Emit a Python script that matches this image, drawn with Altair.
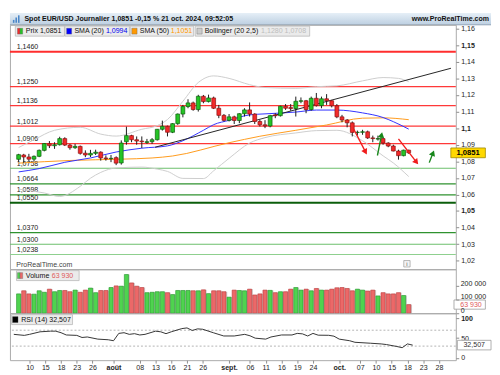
import math
import altair as alt
import pandas as pd

FONT = "Liberation Sans"

# ---------------- data ----------------
title_text = "Spot EUR/USD Journalier 1,0851 -0,15 % 21 oct. 2024, 09:52:05"
site_text = "www.ProRealTime.com"
footer_text = "ProRealTime.com"
legend_names = ["Prix", "SMA (20)", "SMA (50)", "Bollinger (20 2,5)", "Volume", "RSI (14)"]

# daily candles, 5 Jul 2024 (index 0) .. 21 Oct 2024 (index 76), weekdays only
opens = [1.0812, 1.0838, 1.0826, 1.0813, 1.0830, 1.0866, 1.0906, 1.0894, 1.0900, 1.0937,
         1.0898, 1.0882, 1.0890, 1.0849, 1.0838, 1.0848, 1.0855, 1.0820, 1.0816, 1.0822,
         1.0790, 1.0918, 1.0955, 1.0930, 1.0922, 1.0914, 1.0918, 1.0930, 1.0993, 1.1011,
         1.0975, 1.1027, 1.1085, 1.1130, 1.1152, 1.1112, 1.1192, 1.1160, 1.1182, 1.1120,
         1.1077, 1.1047, 1.1068, 1.1046, 1.1087, 1.1110, 1.1085, 1.1040, 1.1020, 1.1013,
         1.1080, 1.1075, 1.1132, 1.1124, 1.1118, 1.1162, 1.1165, 1.1112, 1.1180, 1.1136,
         1.1177, 1.1165, 1.1135, 1.1068, 1.1049, 1.1032, 1.0974, 1.0975, 1.0978, 1.0941,
         1.0934, 1.0937, 1.0910, 1.0892, 1.0862, 1.0834, 1.0867]
highs = [1.0845, 1.0845, 1.0845, 1.0835, 1.0871, 1.0910, 1.0922, 1.0915, 1.0948, 1.0945,
         1.0905, 1.0905, 1.0895, 1.0866, 1.0869, 1.0870, 1.0860, 1.0836, 1.0838, 1.0830,
         1.0926, 1.1009, 1.0960, 1.0950, 1.0950, 1.0935, 1.0940, 1.0995, 1.1045, 1.1015,
         1.1030, 1.1088, 1.1140, 1.1174, 1.1160, 1.1201, 1.1200, 1.1202, 1.1190, 1.1140,
         1.1085, 1.1085, 1.1075, 1.1090, 1.1120, 1.1155, 1.1090, 1.1050, 1.1048, 1.1080,
         1.1090, 1.1135, 1.1145, 1.1145, 1.1190, 1.1185, 1.1170, 1.1190, 1.1212, 1.1190,
         1.1205, 1.1170, 1.1145, 1.1080, 1.1055, 1.1040, 1.0985, 1.0990, 1.0985, 1.0955,
         1.0955, 1.0940, 1.0915, 1.0900, 1.0870, 1.0870, 1.0870]
lows = [1.0797, 1.0791, 1.0800, 1.0800, 1.0825, 1.0860, 1.0880, 1.0875, 1.0895, 1.0892,
        1.0870, 1.0875, 1.0840, 1.0825, 1.0826, 1.0838, 1.0804, 1.0804, 1.0795, 1.0777,
        1.0780, 1.0900, 1.0915, 1.0900, 1.0880, 1.0905, 1.0905, 1.0925, 1.0985, 1.0950,
        1.0970, 1.1020, 1.1065, 1.1120, 1.1105, 1.1100, 1.1150, 1.1155, 1.1115, 1.1060,
        1.1040, 1.1040, 1.1025, 1.1030, 1.1070, 1.1070, 1.1025, 1.1010, 1.1000, 1.1005,
        1.1060, 1.1070, 1.1110, 1.1105, 1.1070, 1.1150, 1.1090, 1.1105, 1.1130, 1.1120,
        1.1140, 1.1125, 1.1060, 1.1035, 1.1005, 1.0950, 1.0955, 1.0960, 1.0935, 1.0915,
        1.0925, 1.0900, 1.0885, 1.0860, 1.0810, 1.0830, 1.0845]
closes = [1.0840, 1.0826, 1.0813, 1.0830, 1.0866, 1.0907, 1.0894, 1.0900, 1.0937, 1.0898,
          1.0882, 1.0890, 1.0848, 1.0838, 1.0848, 1.0855, 1.0820, 1.0816, 1.0818, 1.0789,
          1.0910, 1.0955, 1.0930, 1.0922, 1.0918, 1.0918, 1.0930, 1.0993, 1.1011, 1.0975,
          1.1027, 1.1085, 1.1130, 1.1152, 1.1112, 1.1192, 1.1160, 1.1182, 1.1120, 1.1077,
          1.1047, 1.1068, 1.1046, 1.1087, 1.1110, 1.1085, 1.1040, 1.1020, 1.1013, 1.1075,
          1.1075, 1.1132, 1.1120, 1.1118, 1.1162, 1.1165, 1.1112, 1.1180, 1.1136, 1.1177,
          1.1165, 1.1135, 1.1068, 1.1049, 1.1032, 1.0974, 1.0975, 1.0978, 1.0941, 1.0937,
          1.0937, 1.0910, 1.0892, 1.0862, 1.0834, 1.0867, 1.0851]
volumes = [143000, 166000, 143000, 141000, 166000, 155000, 178000, 159000, 168000, 168000,
           159000, 171000, 155000, 171000, 186000, 152000, 168000, 168000, 190000, 202000,
           200000, 286000, 224000, 200000, 190000, 152000, 155000, 159000, 159000, 152000,
           138000, 168000, 168000, 168000, 166000, 166000, 173000, 145000, 166000, 166000,
           159000, 119000, 171000, 168000, 166000, 178000, 135000, 143000, 171000, 169000,
           152000, 159000, 159000, 178000, 190000, 171000, 178000, 166000, 183000, 171000,
           171000, 178000, 188000, 190000, 183000, 166000, 178000, 171000, 164000, 171000,
           128000, 152000, 143000, 143000, 152000, 131000, 63930]

sma20_idx = [0, 4, 9, 14, 19, 24, 29, 32, 36, 38, 41, 45, 48, 54, 58, 62, 67, 71, 73, 76]
sma20_val = [1.0736, 1.0756, 1.0794, 1.0820, 1.0856, 1.0879, 1.0893, 1.0924, 1.0987, 1.1021,
             1.1047, 1.1080, 1.1086, 1.1097, 1.1109, 1.1109, 1.1092, 1.1064, 1.1039, 1.0994]
sma50_idx = [0, 10, 20, 26, 30, 41, 47, 54, 60, 67, 71, 76]
sma50_val = [1.0789, 1.0805, 1.0813, 1.0820, 1.0832, 1.0912, 1.0951, 1.0987, 1.1019, 1.1060,
             1.1062, 1.1051]
bb_up_idx = [0, 3, 7, 12, 16, 19, 24, 27, 29, 32, 35, 38, 41, 45, 48, 54, 58, 62, 67, 71, 74, 76]
bb_up_val = [1.0883, 1.0930, 1.0987, 1.1005, 1.0964, 1.0952, 1.0993, 1.1015, 1.1052, 1.1162,
             1.1275, 1.1315, 1.1300, 1.1262, 1.1245, 1.1240, 1.1250, 1.1255, 1.1285, 1.1305,
             1.1300, 1.1280]
bb_lo_idx = [0, 5, 8, 12, 14, 16, 19, 24, 27, 29, 32, 36, 38, 41, 45, 48, 54, 58, 62, 67, 71, 73, 76]
bb_lo_val = [1.0632, 1.0609, 1.0588, 1.0649, 1.0698, 1.0733, 1.0760, 1.0765, 1.0753, 1.0739,
             1.0697, 1.0696, 1.0743, 1.0818, 1.0910, 1.0943, 1.0971, 1.0985, 1.0987, 1.0924,
             1.0833, 1.0790, 1.0708]

rsi_idx = [0, 2, 3, 5, 7, 8, 9, 10, 12, 13, 14, 16, 18, 19, 20, 21, 22, 23, 24, 25,
           27, 28, 29, 30, 32, 33, 34, 35, 36, 38, 40, 42, 44, 45, 46, 48, 49, 51, 53, 54,
           55, 56, 57, 58, 60, 61, 62, 64, 65, 68, 70, 71, 73, 74, 75, 76]
rsi_val = [59.6, 57, 59.6, 66, 67.6, 67.6, 63.7, 58, 57, 51.7, 53, 47.6, 46, 43.5, 62, 63.7,
           59.6, 61.3, 58, 59.6, 67.6, 66, 61.3, 66, 74, 75.8, 69.3, 73.4, 72.4, 63.7,
           55.5, 55.5, 59.6, 56, 50, 47.6, 53, 58, 58, 62, 60.8, 55.5, 62, 57.5, 57.2, 55,
           47.6, 43.5, 39.6, 37.2, 35.5, 33.9, 29, 26, 35.5, 32.507]

resist_levels = [1.1460, 1.1250, 1.1136, 1.1012, 1.0906]
support_levels = [1.0758, 1.0664, 1.0598, 1.0550, 1.0370, 1.0300, 1.0238]

trend_idx = [26.6, 84.22]
trend_val = [1.0885, 1.1361]

arrow_from_idx = [65.3, 69.9, 74.0, 80.0]
arrow_from_val = [1.0993, 1.0835, 1.0935, 1.0792]
arrow_to_idx = [67.8, 70.8, 77.8, 80.9]
arrow_to_val = [1.0843, 1.0974, 1.0783, 1.0864]
arrow_dir = ["down", "up", "down", "up"]

price_ticks = [1.02, 1.03, 1.04, 1.05, 1.06, 1.07, 1.08, 1.09, 1.10, 1.11, 1.12, 1.13, 1.14, 1.15, 1.16]
vol_ticks = [0, 100000, 200000]
rsi_ticks = [0, 50, 100]
rsi_bands = [70, 30]
date_tick_idx = [3, 6, 9, 12, 15, 19, 24, 27, 30, 33, 36, 41, 45, 48, 51, 54, 57, 62, 66, 69, 72, 75, 78, 81]
date_tick_lbl = ["10", "15", "18", "23", "26", "août", "08", "13", "16", "21", "26", "sept.",
                 "06", "11", "16", "19", "24", "oct.", "07", "10", "15", "18", "23", "28"]

# ---------------- layout ----------------
W = 456
RIGHT = 492
H_HEAD, H_MAIN, H_VOL, H_RSI = 12, 250, 45, 48
XDOM = [-0.734, 84.22]
PDOM = [1.01491, 1.16231]
VDOM = [0.0, 325000.0]
RDOM = [-5.4, 112.7]
FS = 7.2   # legend / title text size
AFS = 7.2  # axis label size

XS = alt.Scale(domain=XDOM, nice=False, zero=False)
PS = alt.Scale(domain=PDOM, nice=False, zero=False)
VS = alt.Scale(domain=VDOM, nice=False, zero=False)
RS = alt.Scale(domain=RDOM, nice=False, zero=False)


def px2i(px):
    return XDOM[0] + px / W * (XDOM[1] - XDOM[0])


def _inv(dom, h):
    return lambda py: dom[1] - py / h * (dom[1] - dom[0])


py2p = _inv(PDOM, H_MAIN)
py2v = _inv(VDOM, H_VOL)
py2r = _inv(RDOM, H_RSI)


def f4(v):
    return f"{v:.4f}".replace(".", ",")


AX = dict(orient="right", tickSize=3, tickColor="#8c8c8c", labelColor="#1e1e1e",
          labelFontSize=AFS, domain=False, grid=False, title=None, labelFont=FONT)
PAX = alt.Axis(values=price_ticks,
               labelExpr="replace(format(datum.value, '.2~f'), '.', ',')",
               labelFontWeight={"condition": {"test": "abs(datum.value*20 - round(datum.value*20)) < 0.01",
                                              "value": "bold"}, "value": "normal"},
               labelFlush=False, labelPadding=2, **AX)
VAX = alt.Axis(values=vol_ticks, labelExpr="replace(format(datum.value, ','), ',', ' ')",
               labelFlush=True, labelPadding=1.5, zindex=1,
               labelOffset={"condition": {"test": "datum.value == 0", "value": 1.2}, "value": -3},
               **AX)
RAX = alt.Axis(values=rsi_ticks,
               labelFontWeight={"condition": {"test": "datum.value == 100", "value": "bold"},
                                "value": "normal"}, labelFlush=False, labelPadding=2, **AX)
lbl_list = ",".join("'%s'" % s for s in date_tick_lbl)
idx_list = ",".join(str(i) for i in date_tick_idx)
month_idx = ",".join(str(i) for i, s in zip(date_tick_idx, date_tick_lbl) if not s.isdigit())
DAX = alt.Axis(orient="bottom", values=date_tick_idx,
               labelExpr=f"[{lbl_list}][indexof([{idx_list}], datum.value)]",
               labelFontWeight={"condition": {"test": f"indexof([{month_idx}], datum.value) >= 0",
                                              "value": "bold"}, "value": "normal"},
               tickSize=3, tickColor="#8c8c8c", labelColor="#1e1e1e", labelFontSize=AFS,
               labelPadding=1, domain=False, grid=False, title=None, labelFont=FONT,
               labelFlush=False)


def X(f):
    return alt.X(f, type="quantitative", scale=XS, axis=None)


def XR(f):
    return alt.X(f, type="quantitative", scale=XS, axis=DAX)


def YP(f):
    return alt.Y(f, type="quantitative", scale=PS, axis=PAX)


def YV(f):
    return alt.Y(f, type="quantitative", scale=VS, axis=VAX)


def YR(f):
    return alt.Y(f, type="quantitative", scale=RS, axis=RAX)


UP_FILL, DN_FILL = "#25c425", "#f22a2a"
UP_LINE, DN_LINE = "#0b5e0b", "#8a1010"
VUP_FILL, VDN_FILL = "#4fd34f", "#ec6868"
VUP_LINE, VDN_LINE = "#22952a", "#b83a3a"

# ---------------- header ----------------
hdf = pd.DataFrame({"t": [title_text], "s": [site_text]})
grad = alt.LinearGradient(gradient="linear",
                          stops=[alt.GradientStop(color="#e6eff7", offset=0),
                                 alt.GradientStop(color="#bccfe1", offset=1)],
                          x1=0, x2=0, y1=0, y2=1)
head_bg = alt.Chart(hdf).mark_rect(fill=grad).encode(
    x=alt.value(0), x2=alt.value(RIGHT), y=alt.value(0), y2=alt.value(H_HEAD))
head_rule = alt.Chart(hdf).mark_rule(color="#8fa3b6", strokeWidth=1).encode(
    x=alt.value(0), x2=alt.value(RIGHT), y=alt.value(H_HEAD))
icon_df = pd.DataFrame({"x0": [3.0, 5.6, 8.2], "x1": [4.6, 7.2, 9.8],
                        "y0": [7.0, 4.5, 2.3], "y1": [10.0, 10.0, 10.0]})
head_icon = alt.Chart(icon_df).mark_rect(fill="#4a86c8").encode(
    x=alt.X("x0:Q", scale=None), x2="x1:Q", y=alt.Y("y0:Q", scale=None), y2="y1:Q")
head_title = alt.Chart(hdf).mark_text(align="left", baseline="middle", fontWeight="bold",
                                      fontSize=FS, color="#111").encode(
    x=alt.value(14.8), y=alt.value(6.2), text="t:N")
head_site = alt.Chart(hdf).mark_text(align="right", baseline="middle", fontWeight="bold",
                                     fontSize=FS, color="#111").encode(
    x=alt.value(490), y=alt.value(6.2), text="s:N")
head = alt.layer(head_bg, head_rule, head_icon, head_title, head_site).properties(
    width=W, height=H_HEAD, view=alt.ViewBackground(stroke="transparent"))

# ---------------- main price panel ----------------
sup_style = {1.0758: ("#6cbf6c", 1.2), 1.0664: ("#2f922f", 1.2), 1.0598: ("#2f922f", 1.2),
             1.0550: ("#0b5e0b", 2.2), 1.0370: ("#2f922f", 1.2), 1.0300: ("#6cbf6c", 1.2),
             1.0238: ("#8fd08f", 1.2)}
lv_rows = []
for p in resist_levels:
    col, w = ("#ff2e2e", 2.0) if p == max(resist_levels) else ("#ff3838", 1.3)
    lv_rows.append({"p": p, "col": col, "w": w, "label": f4(p), "lx": px2i(2)})
for p in support_levels:
    col, w = sup_style[p]
    lv_rows.append({"p": p, "col": col, "w": w, "label": f4(p), "lx": px2i(2)})
lvdf = pd.DataFrame(lv_rows)
lv_rule = alt.Chart(lvdf).mark_rule().encode(
    y=YP("p"), color=alt.Color("col:N", scale=None), strokeWidth=alt.StrokeWidth("w:Q", scale=None))
lv_text = alt.Chart(lvdf).mark_text(align="left", baseline="bottom", dy=-0.6, fontSize=AFS,
                                    color="#222").encode(x=X("lx"), y=YP("p"), text="label:N")


def series(ix, vals, color, width=1.0):
    df = pd.DataFrame({"i": ix, "p": vals})
    return alt.Chart(df).mark_line(color=color, strokeWidth=width, interpolate="monotone").encode(
        x=X("i"), y=YP("p"))


bb_up = series(bb_up_idx, bb_up_val, "#cdcdcd")
bb_lo = series(bb_lo_idx, bb_lo_val, "#cdcdcd")
sma50 = series(sma50_idx, sma50_val, "#ff9a1a")
sma20 = series(sma20_idx, sma20_val, "#3030ff")

tdf = pd.DataFrame({"i0": [trend_idx[0]], "p0": [trend_val[0]], "i1": [trend_idx[1]], "p1": [trend_val[1]]})
trend = alt.Chart(tdf).mark_rule(color="#222", strokeWidth=1).encode(
    x=X("i0"), y=YP("p0"), x2="i1:Q", y2="p1:Q")

n = len(opens)
cdf = pd.DataFrame({"i": list(range(n)), "o": opens, "h": highs, "l": lows, "c": closes, "v": volumes})
up = [c >= o for o, c in zip(opens, closes)]
cdf["fill"] = [UP_FILL if u else DN_FILL for u in up]
cdf["line"] = [UP_LINE if u else DN_LINE for u in up]
cdf["vfill"] = [VUP_FILL if u else VDN_FILL for u in up]
cdf["vline"] = [VUP_LINE if u else VDN_LINE for u in up]
wicks = alt.Chart(cdf).mark_rule(color="#1a1a1a", strokeWidth=1).encode(
    x=X("i"), y=YP("l"), y2="h:Q")
bodies = alt.Chart(cdf).mark_bar(size=3.9, strokeWidth=0.7).encode(
    x=X("i"), y=YP("o"), y2="c:Q",
    fill=alt.Fill("fill:N", scale=None), stroke=alt.Stroke("line:N", scale=None))

# arrows (line + triangular head)
PXI = W / (XDOM[1] - XDOM[0])
PXP = H_MAIN / (PDOM[1] - PDOM[0])
arows = []
for a0, b0, a1, b1, d in zip(arrow_from_idx, arrow_from_val, arrow_to_idx, arrow_to_val, arrow_dir):
    dx = (a1 - a0) * PXI
    dy = -(b1 - b0) * PXP
    L = math.hypot(dx, dy)
    ux, uy = dx / L, dy / L
    back = 2.6
    arows.append({"i0": a0, "p0": b0,
                  "ih": a1 - ux * back / PXI, "ph": b1 + uy * back / PXP,
                  "ang": math.degrees(math.atan2(dx, -dy)) % 360,
                  "col": "#f01c1c" if d == "down" else "#17871a"})
adf = pd.DataFrame(arows)
arrow_lines = alt.Chart(adf).mark_rule(strokeWidth=1.4).encode(
    x=X("i0"), y=YP("p0"), x2="ih:Q", y2="ph:Q", color=alt.Color("col:N", scale=None))
arrow_heads = alt.Chart(adf).mark_point(shape="triangle-up", filled=True, size=44, opacity=1).encode(
    x=X("ih"), y=YP("ph"), angle=alt.Angle("ang:Q", scale=None), color=alt.Color("col:N", scale=None))

# legend boxes of the price panel
LY0, LY1 = 1.4, 11.6
box_px = [(0.5, 51.9), (52.4, 119.8), (120.7, 187.0), (188.6, 308.3)]
boxdf = pd.DataFrame({"x0": [px2i(a) for a, b in box_px], "x1": [px2i(b) for a, b in box_px],
                      "y0": py2p(LY0), "y1": py2p(LY1)})
leg_box = alt.Chart(boxdf).mark_rect(fill="#ebebeb", stroke="#b9b9b9", strokeWidth=0.8).encode(
    x=X("x0"), x2="x1:Q", y=YP("y0"), y2="y1:Q")
icon_px = [(2.7, 5.4, DN_FILL), (5.4, 8.2, UP_FILL), (54.1, 59.4, "#0000ff"),
           (122.3, 127.8, "#ff9900"), (190.4, 195.8, "#cccccc")]
icdf = pd.DataFrame({"x0": [px2i(a) for a, b, c in icon_px], "x1": [px2i(b) for a, b, c in icon_px],
                     "col": [c for a, b, c in icon_px], "y0": py2p(3.5), "y1": py2p(9.5)})
leg_icon = alt.Chart(icdf).mark_rect(strokeWidth=0.4, stroke="#666").encode(
    x=X("x0"), x2="x1:Q", y=YP("y0"), y2="y1:Q", fill=alt.Fill("col:N", scale=None))
txt_items = [(11.5, f"{legend_names[0]} {f4(closes[-1])}", "#111"),
             (62.3, legend_names[1], "#111"), (95.2, f4(sma20_val[-1]), "#0000ee"),
             (130.6, legend_names[2], "#111"), (163.0, f4(sma50_val[-1]), "#ff9900"),
             (198.5, legend_names[3], "#111"),
             (257.5, f"{f4(bb_up_val[-1])} {f4(bb_lo_val[-1])}", "#bdbdbd")]
ltdf = pd.DataFrame({"x": [px2i(a) for a, b, c in txt_items], "t": [b for a, b, c in txt_items],
                     "col": [c for a, b, c in txt_items], "y": py2p((LY0 + LY1) / 2)})
leg_text = alt.Chart(ltdf).mark_text(align="left", baseline="middle", fontSize=FS).encode(
    x=X("x"), y=YP("y"), text="t:N", color=alt.Color("col:N", scale=None))

# last price box on the axis
half_p = 5.0 / PXP
pbdf = pd.DataFrame({"x0": [px2i(455.9)], "x1": [px2i(RIGHT)], "xc": [px2i(474.0)],
                     "y0": [closes[-1] - half_p], "y1": [closes[-1] + half_p], "p": [closes[-1]],
                     "t": [f4(closes[-1])]})
price_box = alt.Chart(pbdf).mark_rect(fill="#ffd800", stroke="#9c8700", strokeWidth=0.8).encode(
    x=X("x0"), x2="x1:Q", y=YP("y0"), y2="y1:Q")
price_txt = alt.Chart(pbdf).mark_text(align="center", baseline="middle", fontWeight="bold",
                                      fontSize=7.8, color="#000").encode(x=X("xc"), y=YP("p"), text="t:N")

fdf = pd.DataFrame({"x": [px2i(1.5)], "y": [py2p(245.2)], "t": [footer_text],
                    "bx0": [px2i(406.7)], "bx1": [px2i(413.3)], "by0": [py2p(241.1)], "by1": [py2p(247.7)],
                    "bxc": [px2i(410.0)], "byc": [py2p(244.4)], "i": ["i"]})
foot_txt = alt.Chart(fdf).mark_text(align="left", baseline="middle", fontSize=AFS, color="#444").encode(
    x=X("x"), y=YP("y"), text="t:N")
ibox = alt.Chart(fdf).mark_rect(fill="#f4f4f4", stroke="#9a9a9a", strokeWidth=0.7).encode(
    x=X("bx0"), x2="bx1:Q", y=YP("by0"), y2="by1:Q")
itxt = alt.Chart(fdf).mark_text(align="center", baseline="middle", fontSize=6, color="#555").encode(
    x=X("bxc"), y=YP("byc"), text="i:N")

main = alt.layer(lv_rule, lv_text, bb_up, bb_lo, sma50, sma20, trend, wicks, bodies,
                 arrow_lines, arrow_heads, leg_box, leg_icon, leg_text, price_box, price_txt,
                 foot_txt, ibox, itxt).properties(width=W, height=H_MAIN)

# ---------------- volume panel ----------------
vshadow = alt.Chart(cdf).mark_bar(size=4.2, xOffset=1.3, color="#d2d2d2").encode(x=X("i"), y=YV("v"))
vbars = alt.Chart(cdf).mark_bar(size=4.2, strokeWidth=0.6).encode(
    x=X("i"), y=YV("v"), fill=alt.Fill("vfill:N", scale=None), stroke=alt.Stroke("vline:N", scale=None))
vol_str = f"{volumes[-1]:,}".replace(",", " ")
vb = pd.DataFrame({"x0": [px2i(1.7)], "x1": [px2i(67.2)], "y0": [py2v(LY0)], "y1": [py2v(LY1)]})
v_box = alt.Chart(vb).mark_rect(fill="#ebebeb", stroke="#b9b9b9", strokeWidth=0.8).encode(
    x=X("x0"), x2="x1:Q", y=YV("y0"), y2="y1:Q")
vic = pd.DataFrame({"x0": [px2i(2.7), px2i(5.4)], "x1": [px2i(5.4), px2i(8.2)],
                    "col": [VUP_FILL, VDN_FILL], "y0": py2v(3.5), "y1": py2v(9.5)})
v_icon = alt.Chart(vic).mark_rect(strokeWidth=0.4, stroke="#666").encode(
    x=X("x0"), x2="x1:Q", y=YV("y0"), y2="y1:Q", fill=alt.Fill("col:N", scale=None))
vt = pd.DataFrame({"x": [px2i(11.5), px2i(38.6)], "t": [legend_names[4], vol_str],
                   "col": ["#111", "#e05a5a"], "y": py2v((LY0 + LY1) / 2)})
v_text = alt.Chart(vt).mark_text(align="left", baseline="middle", fontSize=FS).encode(
    x=X("x"), y=YV("y"), text="t:N", color=alt.Color("col:N", scale=None))
half_v = 4.7 / H_VOL * (VDOM[1] - VDOM[0])
vvb = pd.DataFrame({"x0": [px2i(459.2)], "x1": [px2i(RIGHT)], "xc": [px2i(477.0)],
                    "y0": [volumes[-1] - half_v], "y1": [volumes[-1] + half_v],
                    "v": [volumes[-1]], "t": [vol_str]})
v_vbox = alt.Chart(vvb).mark_rect(fill="#ffffff", stroke="#9a9a9a", strokeWidth=0.8).encode(
    x=X("x0"), x2="x1:Q", y=YV("y0"), y2="y1:Q")
v_vtxt = alt.Chart(vvb).mark_text(align="center", baseline="middle", fontSize=AFS, color="#e05a5a").encode(
    x=X("xc"), y=YV("v"), text="t:N")
vol = alt.layer(vshadow, vbars, v_box, v_icon, v_text, v_vbox, v_vtxt).properties(width=W, height=H_VOL)

# ---------------- RSI panel ----------------
rbdf = pd.DataFrame({"r": rsi_bands})
r_bands = alt.Chart(rbdf).mark_rule(color="#a0a0a0", strokeDash=[2, 2], strokeWidth=0.8).encode(y=YR("r"))
rdf = pd.DataFrame({"i": rsi_idx, "r": rsi_val})
r_line = alt.Chart(rdf).mark_line(color="#333", strokeWidth=1).encode(x=XR("i"), y=YR("r"))
rsi_str = f"{rsi_val[-1]:.3f}".replace(".", ",")
rb = pd.DataFrame({"x0": [px2i(1.7)], "x1": [px2i(64.0)], "y0": [py2r(LY0)], "y1": [py2r(LY1)],
                   "ix0": [px2i(2.7)], "ix1": [px2i(8.2)], "iy0": [py2r(3.5)], "iy1": [py2r(9.5)],
                   "tx": [px2i(11.5)], "ty": [py2r((LY0 + LY1) / 2)],
                   "t": [f"{legend_names[5]} {rsi_str}"]})
r_box = alt.Chart(rb).mark_rect(fill="#ebebeb", stroke="#b9b9b9", strokeWidth=0.8).encode(
    x=XR("x0"), x2="x1:Q", y=YR("y0"), y2="y1:Q")
r_icon = alt.Chart(rb).mark_rect(fill="#000", stroke="#444", strokeWidth=0.4).encode(
    x=XR("ix0"), x2="ix1:Q", y=YR("iy0"), y2="iy1:Q")
r_text = alt.Chart(rb).mark_text(align="left", baseline="middle", fontSize=FS, color="#111").encode(
    x=XR("tx"), y=YR("ty"), text="t:N")
half_r = 4.9 / H_RSI * (RDOM[1] - RDOM[0])
rvb = pd.DataFrame({"x0": [px2i(457.6)], "x1": [px2i(RIGHT)], "xc": [px2i(474.8)],
                    "y0": [rsi_val[-1] - half_r], "y1": [rsi_val[-1] + half_r],
                    "r": [rsi_val[-1]], "t": [rsi_str]})
r_vbox = alt.Chart(rvb).mark_rect(fill="#ffffff", stroke="#9a9a9a", strokeWidth=0.8).encode(
    x=XR("x0"), x2="x1:Q", y=YR("y0"), y2="y1:Q")
r_vtxt = alt.Chart(rvb).mark_text(align="center", baseline="middle", fontSize=AFS, color="#333").encode(
    x=XR("xc"), y=YR("r"), text="t:N")
rsi = alt.layer(r_bands, r_line, r_box, r_icon, r_text, r_vbox, r_vtxt).properties(width=W, height=H_RSI)

chart = alt.vconcat(head, main, vol, rsi, spacing=0, bounds="flush",
                    padding={"left": 0, "top": 0, "right": 0, "bottom": 0}).configure(
    font=FONT).configure_view(stroke="#a9a9a9", strokeWidth=1)

chart.save("out.html", embed_options={"renderer": "svg", "actions": False})
